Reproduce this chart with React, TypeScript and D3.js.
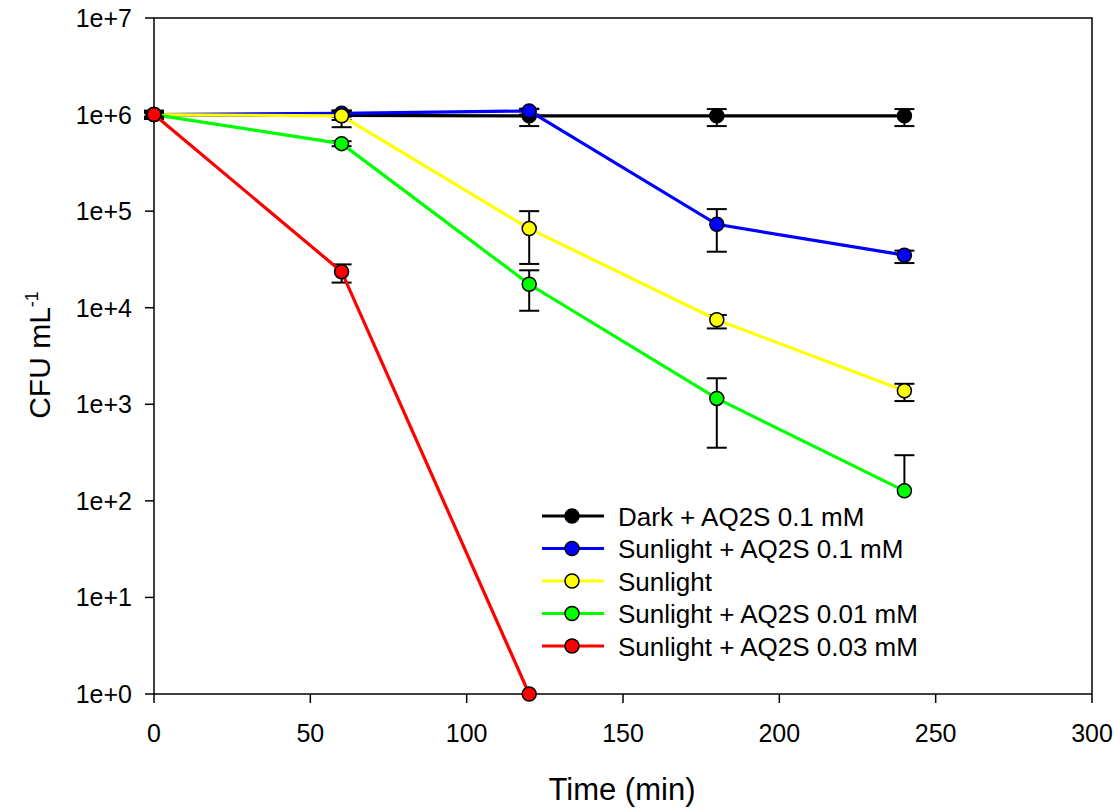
import React from "react";
import * as d3 from "d3";

const times = [0, 60, 120, 180, 240];

const darkVals = [1.0e6, 0.98e6, 0.97e6, 0.97e6, 0.97e6];
const darkHi = [1.1e6, 1.1e6, 1.14e6, 1.14e6, 1.14e6];
const darkLo = [0.9e6, 0.88e6, 0.76e6, 0.76e6, 0.76e6];

const blueVals = [1.0e6, 1.03e6, 1.09e6, 7.3e4, 3.5e4];
const blueHi = [1.08e6, 1.1e6, 1.15e6, 1.05e5, 3.9e4];
const blueLo = [0.92e6, 0.95e6, 1.0e6, 3.8e4, 2.9e4];

const yellowVals = [1.0e6, 0.97e6, 6.6e4, 7.5e3, 1.38e3];
const yellowHi = [1.05e6, 1.08e6, 1.0e5, 8.4e3, 1.63e3];
const yellowLo = [0.93e6, 0.74e6, 2.84e4, 6.1e3, 1.08e3];

const greenVals = [1.0e6, 5.0e5, 1.75e4, 1.15e3, 1.27e2];
const greenHi = [1.05e6, 5.3e5, 2.44e4, 1.86e3, 2.97e2];
const greenLo = [0.95e6, 4.7e5, 9.3e3, 3.55e2, null];

const redVals = [1.0e6, 2.36e4, 1];
const redHi = [1.05e6, 2.81e4, null];
const redLo = [0.95e6, 1.82e4, null];

const seriesNames = [
  "Dark + AQ2S 0.1 mM",
  "Sunlight + AQ2S 0.1 mM",
  "Sunlight",
  "Sunlight + AQ2S 0.01 mM",
  "Sunlight + AQ2S 0.03 mM",
];
const seriesColors = ["#000000", "#0000ff", "#ffff00", "#00ff00", "#ff0000"];

const xTicks = [0, 50, 100, 150, 200, 250, 300];
const yTicks = [1, 10, 100, 1e3, 1e4, 1e5, 1e6, 1e7];
const yTickLabels = ["1e+0", "1e+1", "1e+2", "1e+3", "1e+4", "1e+5", "1e+6", "1e+7"];

type Series = {
  name: string;
  color: string;
  vals: (number | null)[];
  hi: (number | null)[];
  lo: (number | null)[];
};

const series: Series[] = [
  { name: seriesNames[0], color: seriesColors[0], vals: darkVals, hi: darkHi, lo: darkLo },
  { name: seriesNames[1], color: seriesColors[1], vals: blueVals, hi: blueHi, lo: blueLo },
  { name: seriesNames[2], color: seriesColors[2], vals: yellowVals, hi: yellowHi, lo: yellowLo },
  { name: seriesNames[3], color: seriesColors[3], vals: greenVals, hi: greenHi, lo: greenLo },
  { name: seriesNames[4], color: seriesColors[4], vals: redVals, hi: redHi, lo: redLo },
];

const FONT = "'Liberation Sans', Arial, sans-serif";

export default function App() {
  const W = 1120;
  const H = 812;
  const left = 154;
  const right = 1092;
  const top = 18;
  const bottom = 694;

  const x = d3.scaleLinear().domain([0, 300]).range([left, right]);
  const y = d3.scaleLog().domain([1, 1e7]).range([bottom, top]);

  const capHalf = 10;
  const r = 7;

  const lineGen = d3
    .line<{ t: number; v: number }>()
    .x((d) => x(d.t))
    .y((d) => y(d.v));

  const legendX = 542;
  const legendY0 = 516;
  const legendDy = 32.5;

  return (
    <svg
      width={W}
      height={H}
      style={{ position: "absolute", left: 0, top: 0, background: "#fff" }}
      fontFamily={FONT}
    >
      <rect x={0} y={0} width={W} height={H} fill="#fff" />
      {/* frame */}
      <rect x={left} y={top} width={right - left} height={bottom - top} fill="none" stroke="#000" strokeWidth={1.5} />

      {/* x ticks */}
      {xTicks.map((t) => (
        <g key={"xt" + t}>
          <line x1={x(t)} x2={x(t)} y1={bottom} y2={bottom + 9} stroke="#000" strokeWidth={1.5} />
          <text x={x(t)} y={742} textAnchor="middle" fontSize={25} fill="#000">
            {t}
          </text>
        </g>
      ))}
      {/* y ticks */}
      {yTicks.map((v, i) => (
        <g key={"yt" + i}>
          <line x1={left - 9} x2={left} y1={y(v)} y2={y(v)} stroke="#000" strokeWidth={1.5} />
          <text x={132} y={y(v) + 9} textAnchor="end" fontSize={25} fill="#000">
            {yTickLabels[i]}
          </text>
        </g>
      ))}

      {/* axis titles */}
      <text x={(left + right) / 2 - 1} y={800} textAnchor="middle" fontSize={31} fill="#000">
        Time (min)
      </text>
      <text transform={`translate(50, 355) rotate(-90)`} textAnchor="middle" fontSize={30} fill="#000">
        CFU mL
        <tspan dy={-12} fontSize={18}>-1</tspan>
      </text>

      {/* series */}
      {series.map((s, si) => {
        const pts = s.vals
          .map((v, i) => ({ t: times[i], v: v as number }))
          .filter((d) => d.v != null);
        return (
          <g key={"s" + si}>
            {/* error bars */}
            {s.vals.map((v, i) => {
              if (v == null) return null;
              const cx = x(times[i]);
              const hi = s.hi[i];
              const lo = s.lo[i];
              return (
                <g key={"e" + i}>
                  {hi != null && (
                    <>
                      <line x1={cx} x2={cx} y1={y(v)} y2={y(hi)} stroke="#000" strokeWidth={2} />
                      <line x1={cx - capHalf} x2={cx + capHalf} y1={y(hi)} y2={y(hi)} stroke="#000" strokeWidth={2} />
                    </>
                  )}
                  {lo != null && (
                    <>
                      <line x1={cx} x2={cx} y1={y(v)} y2={y(lo)} stroke="#000" strokeWidth={2} />
                      <line x1={cx - capHalf} x2={cx + capHalf} y1={y(lo)} y2={y(lo)} stroke="#000" strokeWidth={2} />
                    </>
                  )}
                </g>
              );
            })}
            <path d={lineGen(pts) || ""} fill="none" stroke={s.color} strokeWidth={3.2} />
            {pts.map((d, i) => (
              <circle key={"c" + i} cx={x(d.t)} cy={y(d.v)} r={r} fill={s.color} stroke="#000" strokeWidth={1.5} />
            ))}
          </g>
        );
      })}

      {/* legend */}
      {series.map((s, i) => {
        const ly = legendY0 + i * legendDy;
        return (
          <g key={"l" + i}>
            <line x1={legendX} x2={legendX + 62} y1={ly} y2={ly} stroke={s.color} strokeWidth={3.2} />
            <circle cx={legendX + 30} cy={ly} r={r} fill={s.color} stroke="#000" strokeWidth={1.5} />
            <text x={618} y={ly + 9.5} fontSize={26} fill="#000">
              {s.name}
            </text>
          </g>
        );
      })}
    </svg>
  );
}
